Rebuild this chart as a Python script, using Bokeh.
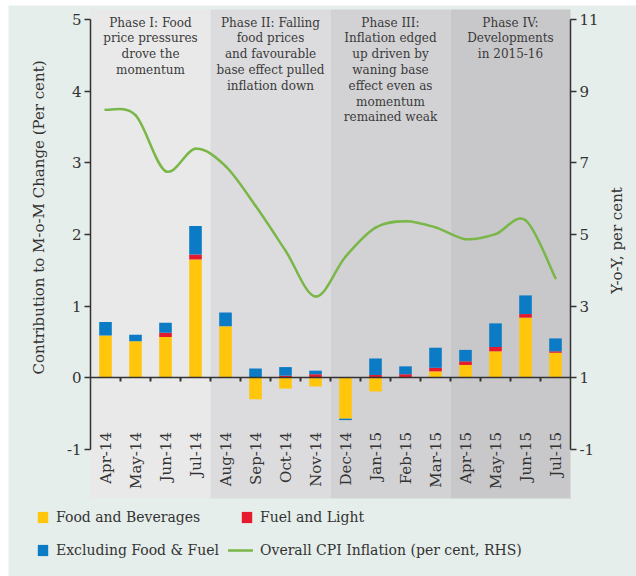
import numpy as np
from math import pi
from bokeh.plotting import figure
from bokeh.models import (Range1d, LinearAxis, FixedTicker, Legend, LegendItem, Label)
from bokeh.core.properties import value
from bokeh.embed import file_html
from bokeh.resources import INLINE

# ---------------- data ----------------
months = ["Apr-14", "May-14", "Jun-14", "Jul-14", "Aug-14", "Sep-14", "Oct-14", "Nov-14",
          "Dec-14", "Jan-15", "Feb-15", "Mar-15", "Apr-15", "May-15", "Jun-15", "Jul-15"]
food = [0.59, 0.51, 0.57, 1.65, 0.72, -0.30, -0.15, -0.12,
        -0.57, -0.19, 0.00, 0.09, 0.18, 0.37, 0.84, 0.35]
fuel = [0.00, 0.00, 0.06, 0.07, 0.00, 0.00, 0.03, 0.05,
        0.00, 0.04, 0.05, 0.05, 0.05, 0.06, 0.05, 0.02]
excl = [0.19, 0.09, 0.14, 0.40, 0.19, 0.13, 0.12, 0.05,
        -0.02, 0.23, 0.11, 0.28, 0.16, 0.33, 0.26, 0.18]
cpi = [8.48, 8.33, 6.77, 7.39, 6.91, 5.80, 4.55, 3.27,
       4.38, 5.19, 5.37, 5.20, 4.87, 5.01, 5.40, 3.78]

left_ticks = [-1, 0, 1, 2, 3, 4, 5]
right_ticks = [-1, 1, 3, 5, 7, 9, 11]

phases = [
    (0, 3, "Phase I: Food\nprice pressures\ndrove the\nmomentum"),
    (4, 7, "Phase II: Falling\nfood prices\nand favourable\nbase effect pulled\ninflation down"),
    (8, 11, "Phase III:\nInflation edged\nup driven by\nwaning base\neffect even as\nmomentum\nremained weak"),
    (12, 15, "Phase IV:\nDevelopments\nin 2015-16"),
]

# ---------------- style / layout ----------------
W, H = 636, 576
BG = "#e5eeea"
PHASE_COLORS = ["#e9e9e9", "#dcdcde", "#d2d2d4", "#c8c8ca"]
C_FOOD, C_FUEL, C_EXCL, C_LINE = "#ffc60b", "#e51a2e", "#0a7bc4", "#7ab648"
TXT = "#333333"
SERIF = "DejaVu Serif"

n = len(months)
# pixel geometry of the plotting box
PX_L, PX_R = 90, 570          # category span
PY_TOP, PY_BOT = 19, 449      # y = 5 and y = -1 (left axis)
ppx = (PX_R - PX_L) / n
ppy = (PY_BOT - PY_TOP) / (left_ticks[-1] - left_ticks[0])


def xd(px):
    return -0.5 + (px - PX_L) / ppx


def yd(py):
    return left_ticks[0] + (PY_BOT - py) / ppy


def to_right(v):
    return 2 * v + 1


x0, x1 = xd(0), xd(W)
y0, y1 = yd(H), yd(0)

p = figure(width=W, height=H, x_range=Range1d(x0, x1), y_range=Range1d(y0, y1),
           x_axis_type=None, y_axis_type=None, toolbar_location=None,
           output_backend="svg", min_border=0,
           background_fill_color="white", border_fill_color="white", outline_line_color=None)
p.extra_y_ranges = {"right": Range1d(to_right(y0), to_right(y1))}

# panel background
p.quad(left=xd(8), right=x1, bottom=y0, top=yd(5), fill_color=BG, line_color=None)

# phase shading + phase texts
for k, (a, b, txt) in enumerate(phases):
    p.quad(left=a - 0.5, right=b + 0.5, bottom=yd(498), top=yd(9),
           fill_color=PHASE_COLORS[k], line_color=None)
    p.text(x=[(a + b) / 2], y=[yd(15)], text=[txt], text_align="center",
           text_baseline="top", text_font=value(SERIF), text_font_size="12px",
           text_color="#3a3a3a", text_line_height=1.13)

# stacked bars (positives up from 0, negatives down from 0)
xs = np.arange(n, dtype=float)
pos = np.zeros(n)
neg = np.zeros(n)
bar_r = {}
for name, vals, col in [("food", food, C_FOOD), ("fuel", fuel, C_FUEL), ("excl", excl, C_EXCL)]:
    v = np.array(vals, dtype=float)
    bottom = np.where(v >= 0, pos, neg)
    top = bottom + v
    pos = np.where(v >= 0, top, pos)
    neg = np.where(v < 0, top, neg)
    bar_r[name] = p.vbar(x=xs, bottom=bottom, top=top, width=0.42,
                         fill_color=col, line_color=None)

# smoothed CPI line (Catmull-Rom -> cubic Bezier through the data points)
yc = np.array(cpi, dtype=float)
xp = np.concatenate([[xs[0]], xs, [xs[-1]]])
yp = np.concatenate([[yc[0]], yc, [yc[-1]]])
t = 1 / 6
line_r = p.bezier(x0=xp[1:n], y0=yp[1:n], x1=xp[2:n + 1], y1=yp[2:n + 1],
                  cx0=xp[1:n] + (xp[2:n + 1] - xp[0:n - 1]) * t,
                  cy0=yp[1:n] + (yp[2:n + 1] - yp[0:n - 1]) * t,
                  cx1=xp[2:n + 1] - (xp[3:n + 2] - xp[1:n]) * t,
                  cy1=yp[2:n + 1] - (yp[3:n + 2] - yp[1:n]) * t,
                  y_range_name="right", line_color=C_LINE, line_width=2.5,
                  line_cap="round")


def style_axis(ax, size="15px"):
    ax.axis_line_color = TXT
    ax.axis_line_width = 1.5
    ax.major_tick_line_color = TXT
    ax.major_tick_line_width = 1.5
    ax.minor_tick_line_color = None
    ax.major_label_text_font = SERIF
    ax.major_label_text_font_size = size
    ax.major_label_text_color = TXT


# left axis
la = LinearAxis(fixed_location=-0.5, bounds=(left_ticks[0], left_ticks[-1]),
                ticker=FixedTicker(ticks=left_ticks),
                major_label_overrides={v: str(v) for v in left_ticks})
style_axis(la)
la.major_tick_out = 6
la.major_tick_in = 0
la.major_label_standoff = 3
p.add_layout(la, "left")

# right axis
ra = LinearAxis(y_range_name="right", fixed_location=n - 0.5,
                bounds=(right_ticks[0], right_ticks[-1]), ticker=FixedTicker(ticks=right_ticks),
                major_label_overrides={v: str(v) for v in right_ticks})
style_axis(ra)
ra.major_tick_out = 6
ra.major_tick_in = 0
ra.major_label_standoff = 3
p.add_layout(ra, "right")

# zero line with category separators
za = LinearAxis(fixed_location=0, bounds=(-0.5, n - 0.5),
                ticker=FixedTicker(ticks=[i + 0.5 for i in range(n - 1)]))
style_axis(za)
za.major_tick_out = 4
za.major_tick_in = 0
za.major_tick_line_width = 2
za.major_label_text_alpha = 0
p.add_layout(za, "below")

# month labels
ma = LinearAxis(fixed_location=-0.7, ticker=FixedTicker(ticks=list(range(n))),
                major_label_overrides={i: m for i, m in enumerate(months)})
style_axis(ma)
ma.axis_line_color = None
ma.major_tick_line_color = None
ma.major_tick_out = 0
ma.major_tick_in = 0
ma.major_label_standoff = 4
ma.major_label_orientation = pi / 2
p.add_layout(ma, "below")

# axis titles
p.add_layout(Label(x=xd(38), y=yd(217), text="Contribution to M-o-M Change (Per cent)",
                   angle=pi / 2, text_align="center", text_baseline="middle",
                   text_font=SERIF, text_font_size="15px", text_color=TXT))
p.add_layout(Label(x=xd(616), y=yd(240), text="Y-o-Y, per cent",
                   angle=pi / 2, text_align="center", text_baseline="middle",
                   text_font=SERIF, text_font_size="15px", text_color=TXT))


def make_legend(items, px_left, py_center_last, gw):
    lg = Legend(items=items, location=(px_left, H - (py_center_last + 10)),
                orientation="vertical",
                glyph_width=gw, glyph_height=14, label_height=20, spacing=13,
                label_standoff=7, padding=0, margin=0,
                border_line_color=None, background_fill_alpha=0,
                label_text_font=SERIF, label_text_font_size="14px",
                label_text_color=TXT)
    p.add_layout(lg)


make_legend([LegendItem(label="Food and Beverages", renderers=[bar_r["food"]]),
             LegendItem(label="Excluding Food & Fuel", renderers=[bar_r["excl"]])],
            36, 550, 13)
make_legend([LegendItem(label="Fuel and Light", renderers=[bar_r["fuel"]])],
            240, 517, 13)
make_legend([LegendItem(label="Overall CPI Inflation (per cent, RHS)", renderers=[line_r])],
            228, 550, 25)

open("out.html", "w").write(file_html(p, INLINE))
